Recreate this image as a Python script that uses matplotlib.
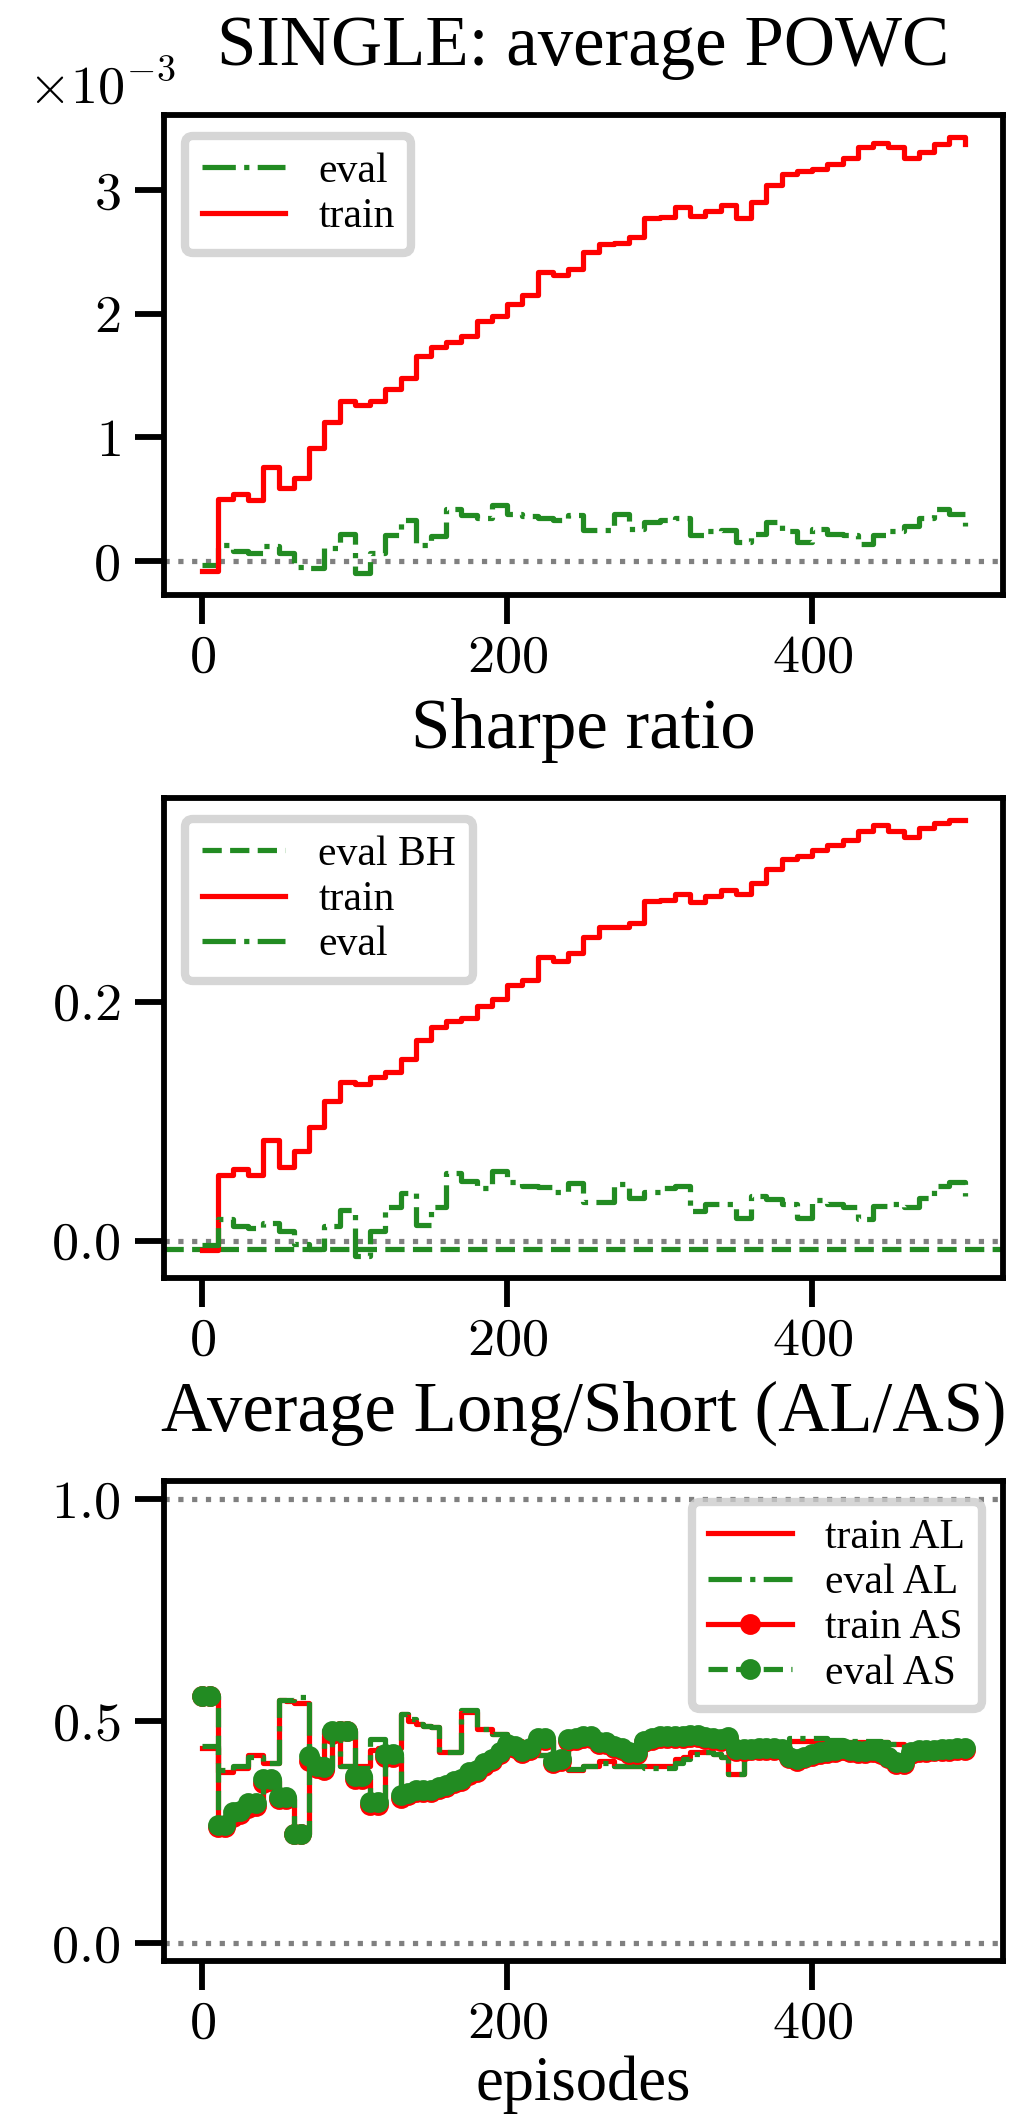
import numpy as np
import matplotlib
matplotlib.use("Agg")
import matplotlib.pyplot as plt

plt.rcParams["font.family"] = ["Liberation Serif", "DejaVu Serif"]
plt.rcParams["axes.formatter.use_mathtext"] = True
plt.rcParams["mathtext.fontset"] = "cm"

# episodes for the POWC and Sharpe panels (one value every 10 episodes)
ep10 = list(range(0, 501, 10))

# average POWC, in units of 1e-3
powc_train = [-0.08, 0.50, 0.54, 0.49, 0.76, 0.59, 0.67, 0.91, 1.12, 1.29,
              1.26, 1.29, 1.39, 1.48, 1.66, 1.73, 1.77, 1.82, 1.94, 1.98,
              2.08, 2.15, 2.34, 2.31, 2.36, 2.50, 2.56, 2.57, 2.62, 2.77,
              2.78, 2.86, 2.79, 2.83, 2.88, 2.77, 2.90, 3.04, 3.13, 3.15,
              3.17, 3.21, 3.26, 3.35, 3.38, 3.35, 3.26, 3.31, 3.37, 3.43,
              3.37]
powc_eval = [-0.03, 0.13, 0.08, 0.06, 0.12, 0.06, -0.05, -0.06, 0.10, 0.22,
             -0.10, 0.06, 0.21, 0.33, 0.13, 0.20, 0.42, 0.37, 0.35, 0.45,
             0.38, 0.36, 0.35, 0.33, 0.37, 0.25, 0.25, 0.38, 0.26, 0.31,
             0.33, 0.35, 0.21, 0.24, 0.25, 0.15, 0.22, 0.31, 0.24, 0.15,
             0.26, 0.22, 0.21, 0.14, 0.21, 0.24, 0.28, 0.35, 0.42, 0.38,
             0.28]

# Sharpe ratio
sharpe_train = [-0.0075, 0.055, 0.060, 0.055, 0.084, 0.062, 0.075, 0.095, 0.117, 0.133,
                0.131, 0.137, 0.141, 0.152, 0.168, 0.179, 0.184, 0.186, 0.196, 0.202,
                0.214, 0.218, 0.237, 0.234, 0.241, 0.254, 0.262, 0.262, 0.266, 0.284,
                0.285, 0.290, 0.283, 0.288, 0.293, 0.290, 0.299, 0.311, 0.319, 0.322,
                0.327, 0.331, 0.335, 0.343, 0.348, 0.343, 0.338, 0.345, 0.349, 0.352,
                0.352]
sharpe_eval = [-0.004, 0.018, 0.012, 0.011, 0.015, 0.008, -0.003, -0.007, 0.012, 0.026,
               -0.013, 0.008, 0.028, 0.040, 0.013, 0.028, 0.057, 0.050, 0.044, 0.058,
               0.049, 0.046, 0.045, 0.041, 0.048, 0.032, 0.032, 0.047, 0.036, 0.041,
               0.044, 0.046, 0.025, 0.031, 0.031, 0.019, 0.037, 0.035, 0.031, 0.019,
               0.034, 0.031, 0.028, 0.018, 0.029, 0.031, 0.028, 0.036, 0.046, 0.049,
               0.037]
sharpe_eval_bh = -0.0067

# average long / short, one value every 5 episodes
ep5 = list(range(0, 501, 5))
al_train = [0.440, 0.440, 0.386, 0.386, 0.395, 0.395, 0.424, 0.424, 0.406, 0.406,
            0.548, 0.545, 0.540, 0.540, 0.400, 0.400, 0.467, 0.467, 0.400, 0.400,
            0.400, 0.400, 0.435, 0.440, 0.440, 0.440, 0.516, 0.500, 0.493, 0.490,
            0.486, 0.430, 0.430, 0.430, 0.520, 0.520, 0.483, 0.483, 0.470, 0.470,
            0.455, 0.455, 0.440, 0.435, 0.424, 0.424, 0.415, 0.406, 0.390, 0.390,
            0.400, 0.400, 0.410, 0.410, 0.400, 0.400, 0.400, 0.400, 0.400, 0.400,
            0.400, 0.400, 0.415, 0.420, 0.430, 0.430, 0.430, 0.425, 0.420, 0.381,
            0.381, 0.445, 0.445, 0.445, 0.445, 0.445, 0.445, 0.455, 0.455, 0.455,
            0.455, 0.455, 0.455, 0.452, 0.452, 0.452, 0.452, 0.452, 0.452, 0.452,
            0.448, 0.448, 0.440, 0.440, 0.437, 0.437, 0.437, 0.437, 0.440, 0.440,
            0.440]
al_eval = [0.445, 0.445, 0.390, 0.390, 0.398, 0.398, 0.420, 0.420, 0.406, 0.406,
           0.548, 0.548, 0.555, 0.555, 0.400, 0.400, 0.480, 0.480, 0.400, 0.400,
           0.395, 0.395, 0.460, 0.460, 0.440, 0.440, 0.516, 0.505, 0.493, 0.490,
           0.486, 0.430, 0.430, 0.430, 0.525, 0.525, 0.483, 0.483, 0.470, 0.470,
           0.455, 0.455, 0.440, 0.435, 0.424, 0.424, 0.415, 0.406, 0.393, 0.393,
           0.400, 0.400, 0.405, 0.405, 0.400, 0.400, 0.400, 0.400, 0.395, 0.395,
           0.395, 0.395, 0.405, 0.415, 0.425, 0.425, 0.430, 0.425, 0.420, 0.381,
           0.381, 0.445, 0.445, 0.445, 0.445, 0.445, 0.445, 0.462, 0.462, 0.462,
           0.462, 0.462, 0.458, 0.458, 0.455, 0.455, 0.455, 0.455, 0.455, 0.452,
           0.448, 0.448, 0.440, 0.440, 0.437, 0.437, 0.437, 0.437, 0.440, 0.440,
           0.440]
as_train = [0.557, 0.557, 0.262, 0.262, 0.285, 0.290, 0.305, 0.310, 0.360, 0.365,
            0.325, 0.325, 0.247, 0.247, 0.410, 0.395, 0.390, 0.470, 0.478, 0.478,
            0.370, 0.370, 0.312, 0.312, 0.420, 0.420, 0.328, 0.333, 0.340, 0.340,
            0.340, 0.348, 0.352, 0.360, 0.365, 0.378, 0.385, 0.398, 0.410, 0.425,
            0.442, 0.440, 0.428, 0.435, 0.458, 0.458, 0.405, 0.410, 0.455, 0.458,
            0.462, 0.462, 0.448, 0.448, 0.440, 0.436, 0.425, 0.425, 0.452, 0.458,
            0.462, 0.462, 0.463, 0.463, 0.465, 0.465, 0.460, 0.458, 0.456, 0.460,
            0.432, 0.432, 0.434, 0.436, 0.436, 0.436, 0.434, 0.416, 0.411, 0.416,
            0.421, 0.426, 0.429, 0.431, 0.436, 0.431, 0.428, 0.429, 0.430, 0.426,
            0.416, 0.403, 0.403, 0.426, 0.431, 0.431, 0.432, 0.433, 0.433, 0.436,
            0.436]
as_eval = [0.557, 0.557, 0.267, 0.267, 0.295, 0.298, 0.316, 0.316, 0.370, 0.370,
           0.330, 0.330, 0.247, 0.247, 0.422, 0.400, 0.396, 0.478, 0.478, 0.478,
           0.377, 0.377, 0.318, 0.318, 0.426, 0.426, 0.333, 0.338, 0.344, 0.344,
           0.345, 0.351, 0.356, 0.365, 0.370, 0.385, 0.390, 0.405, 0.415, 0.430,
           0.448, 0.445, 0.433, 0.440, 0.463, 0.463, 0.411, 0.415, 0.459, 0.462,
           0.467, 0.467, 0.452, 0.452, 0.445, 0.440, 0.430, 0.430, 0.455, 0.462,
           0.466, 0.466, 0.467, 0.467, 0.468, 0.468, 0.464, 0.462, 0.460, 0.464,
           0.437, 0.437, 0.438, 0.440, 0.440, 0.440, 0.438, 0.420, 0.415, 0.420,
           0.425, 0.430, 0.433, 0.435, 0.440, 0.435, 0.432, 0.433, 0.434, 0.430,
           0.420, 0.407, 0.407, 0.430, 0.435, 0.435, 0.436, 0.437, 0.437, 0.440,
           0.440]

RED = "red"
GREEN = "forestgreen"
LW = 1.25

fig, axes = plt.subplots(3, 1, figsize=(3.4, 7.06), dpi=300)
fig.subplots_adjust(left=0.161, right=0.983, top=0.9457, bottom=0.0741, hspace=0.423)

for ax in axes:
    for sp in ax.spines.values():
        sp.set_linewidth(1.4)
    ax.tick_params(length=7, width=1.4, labelsize=13, labelfontfamily="cmr10")
    ax.tick_params(axis="x", pad=2.5)
    ax.set_xticks([0, 200, 400])

def legend(ax, loc):
    lg = ax.legend(loc=loc, fontsize=10, fancybox=True, labelspacing=0.16)
    lg.get_frame().set_edgecolor("0.8")
    lg.get_frame().set_linewidth(2)

# --- average POWC
ax = axes[0]
ax.axhline(0, color="gray", ls=":", lw=LW)
ax.plot(ep10, np.array(powc_eval) * 1e-3, color=GREEN, ls="-.", lw=LW,
        drawstyle="steps-post", label="eval")
ax.plot(ep10, np.array(powc_train) * 1e-3, color=RED, ls="-", lw=LW,
        drawstyle="steps-post", label="train")
ax.set_yticks([0, 1e-3, 2e-3, 3e-3])
ax.ticklabel_format(axis="y", style="sci", scilimits=(0, 0))
ax.yaxis.offsetText.set_fontfamily("cmr10")
ax.yaxis.offsetText.set_fontsize(13)
ax.yaxis.offsetText.set_x(-0.163)
ax.set_title("SINGLE: average POWC", fontsize=17, pad=12)
legend(ax, "upper left")

# --- Sharpe ratio
ax = axes[1]
ax.axhline(0, color="gray", ls=":", lw=LW)
ax.axhline(sharpe_eval_bh, color=GREEN, ls="--", lw=LW, label="eval BH")
ax.plot(ep10, sharpe_train, color=RED, ls="-", lw=LW,
        drawstyle="steps-post", label="train")
ax.plot(ep10, sharpe_eval, color=GREEN, ls="-.", lw=LW,
        drawstyle="steps-post", label="eval")
ax.set_yticks([0.0, 0.2])
ax.set_title("Sharpe ratio", fontsize=17, pad=12)
legend(ax, "upper left")

# --- average long / short
ax = axes[2]
ax.axhline(0, color="gray", ls=":", lw=LW)
ax.axhline(1, color="gray", ls=":", lw=LW)
ax.plot(ep5, al_train, color=RED, ls="-", lw=LW, drawstyle="steps-post", label="train AL")
ax.plot(ep5, al_eval, color=GREEN, ls="-.", lw=LW, drawstyle="steps-post", label="eval AL")
ax.plot(ep5, as_train, color=RED, ls="-", marker=".", ms=8, lw=LW,
        drawstyle="steps-post", label="train AS")
ax.plot(ep5, as_eval, color=GREEN, ls="--", marker=".", ms=8, lw=LW,
        drawstyle="steps-post", label="eval AS")
ax.set_ylim(-0.04, 1.04)
ax.set_yticks([0.0, 0.5, 1.0])
ax.set_title("Average Long/Short (AL/AS)", fontsize=17, pad=12)
ax.set_xlabel("episodes", fontsize=15, labelpad=2)
legend(ax, "upper right")

fig.savefig("out.png", dpi=300)
